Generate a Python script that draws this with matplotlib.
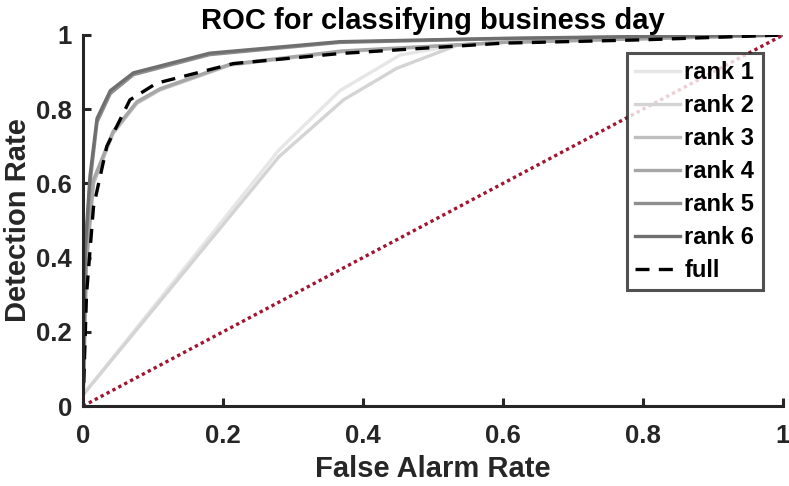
import matplotlib
matplotlib.use("Agg")
import matplotlib.pyplot as plt

plt.rcParams['font.family'] = ['Liberation Sans', 'DejaVu Sans']
plt.rcParams['font.weight'] = 'bold'

# ROC curves
rank1_x = [0, 0.0, 0.28, 0.367, 0.453, 0.534, 0.6, 0.8, 1.0]
rank1_y = [0, 0.03, 0.69, 0.85, 0.946, 0.973, 0.98, 0.99, 1.0]
rank2_x = [0, 0.0, 0.28, 0.372, 0.448, 0.534, 0.6, 0.8, 1.0]
rank2_y = [0, 0.03, 0.672, 0.825, 0.91, 0.972, 0.98, 0.99, 1.0]
rank3_x = [0, 0.005, 0.015, 0.043, 0.077, 0.11, 0.21, 0.37, 0.6, 0.8, 1.0]
rank3_y = [0, 0.38, 0.6, 0.735, 0.816, 0.852, 0.919, 0.955, 0.98, 0.99, 1.0]
rank4_x = [0, 0.005, 0.015, 0.043, 0.077, 0.11, 0.21, 0.37, 0.6, 0.8, 1.0]
rank4_y = [0, 0.40, 0.61, 0.74, 0.82, 0.855, 0.921, 0.957, 0.98, 0.99, 1.0]
rank5_x = [0, 0.003, 0.01, 0.02, 0.039, 0.072, 0.181, 0.367, 0.6, 0.8, 1.0]
rank5_y = [0, 0.40, 0.60, 0.765, 0.842, 0.893, 0.947, 0.98, 0.99, 0.995, 1.0]
rank6_x = [0, 0.003, 0.01, 0.02, 0.039, 0.072, 0.181, 0.367, 0.6, 0.8, 1.0]
rank6_y = [0, 0.42, 0.62, 0.775, 0.85, 0.898, 0.951, 0.982, 0.991, 0.996, 1.0]
full_x = [0, 0.005, 0.015, 0.034, 0.067, 0.105, 0.215, 0.367, 0.6, 0.8, 1.0]
full_y = [0, 0.3, 0.537, 0.70, 0.825, 0.87, 0.923, 0.95, 0.978, 0.987, 1.0]
chance = [0, 1]

labels = ['rank 1', 'rank 2', 'rank 3', 'rank 4', 'rank 5', 'rank 6']
greys = ['#e6e6e6', '#d4d4d4', '#bfbfbf', '#a6a6a6', '#8f8f8f', '#6f6f6f']
curves = [(rank1_x, rank1_y), (rank2_x, rank2_y), (rank3_x, rank3_y),
          (rank4_x, rank4_y), (rank5_x, rank5_y), (rank6_x, rank6_y)]

fig = plt.figure(figsize=(7.89, 4.86), dpi=100)
ax = fig.add_axes([0.1052, 0.1646, 0.8872, 0.7634])

for (xs, ys), c, lab in zip(curves, greys, labels):
    ax.plot(xs, ys, color=c, lw=2.4, label=lab)
ax.plot(full_x, full_y, color='black', lw=2.4, ls=(0, (4.2, 2.8)), label='full')
ax.plot(chance, chance, color='#a2142f', lw=2.4, ls=(0, (1, 1)))

ax.set_xlim(0, 1)
ax.set_ylim(0, 1)
ax.set_xticks([0, 0.2, 0.4, 0.6, 0.8, 1])
ax.set_xticklabels(['0', '0.2', '0.4', '0.6', '0.8', '1'])
ax.set_yticks([0, 0.2, 0.4, 0.6, 0.8, 1])
ax.set_yticklabels(['0', '0.2', '0.4', '0.6', '0.8', '1'])

for s in ['top', 'right']:
    ax.spines[s].set_visible(False)
for s in ['left', 'bottom']:
    ax.spines[s].set_color('#262626')
    ax.spines[s].set_linewidth(2.2)
ax.tick_params(direction='in', length=6, width=2.2, color='#262626',
               labelsize=18.5, labelcolor='#262626')
ax.tick_params(axis='x', pad=13)
ax.tick_params(axis='y', pad=8)
for lab in ax.get_xticklabels() + ax.get_yticklabels():
    lab.set_fontweight('bold')

ax.set_xlabel('False Alarm Rate', fontsize=21, fontweight='bold', color='#262626', labelpad=5)
ax.set_ylabel('Detection Rate', fontsize=21, fontweight='bold', color='#262626', labelpad=3)
ax.set_title('ROC for classifying business day', fontsize=21, fontweight='bold', pad=3)

leg = ax.legend(loc='upper right', bbox_to_anchor=(0.971, 0.951), fontsize=17,
                frameon=True, fancybox=False, handlelength=1.9, handletextpad=0.2,
                borderpad=0.35, labelspacing=0.42, borderaxespad=0)
leg.get_frame().set_edgecolor('#262626')
leg.get_frame().set_linewidth(2.2)
for t in leg.get_texts():
    t.set_fontweight('bold')

fig.savefig('out.png', dpi=100)
